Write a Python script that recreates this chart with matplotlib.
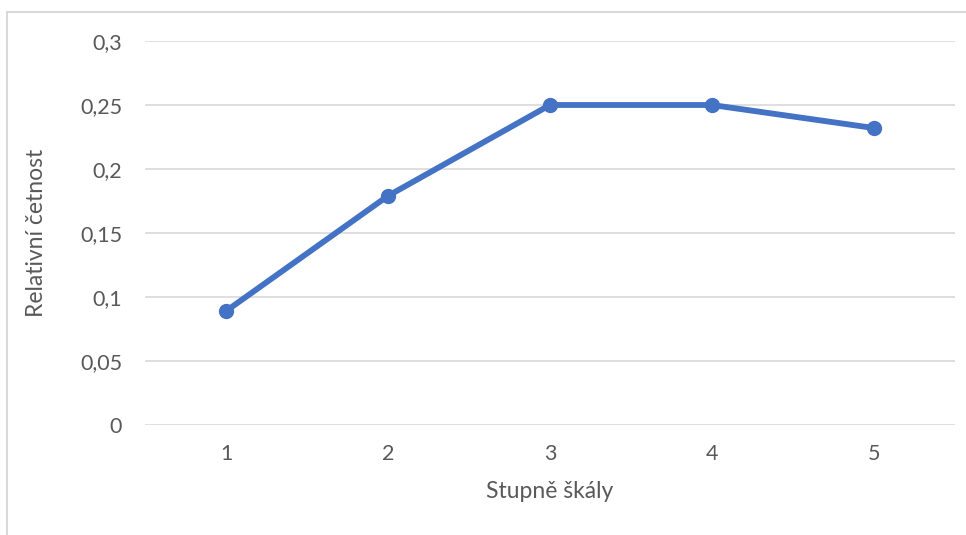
import matplotlib
matplotlib.use("Agg")
import matplotlib.pyplot as plt
from matplotlib.patches import Rectangle
from matplotlib.ticker import FuncFormatter

categories = ["1", "2", "3", "4", "5"]
values = [0.089, 0.179, 0.25, 0.25, 0.232]
yticks = [0, 0.05, 0.1, 0.15, 0.2, 0.25, 0.3]
xlabel = "Stupně škály"
ylabel = "Relativní četnost"

plt.rcParams['font.family'] = ['Lato', 'DejaVu Sans']
W, H = 966, 535
fig = plt.figure(figsize=(W/100, H/100), dpi=100)
ax = fig.add_axes([145/W, 1-425/H, 810/W, 384/H])

x = list(range(1, len(categories)+1))
ax.plot(x, values, color="#4472C4", lw=4.2, marker="o", ms=10,
        solid_capstyle="round", zorder=3)
ax.set_xlim(0.5, len(categories)+0.5)
ax.set_ylim(0, 0.3)
ax.set_yticks(yticks)
ax.yaxis.set_major_formatter(FuncFormatter(lambda v, p: ("%g" % round(v, 4)).replace(".", ",")))
ax.set_xticks(x)
ax.set_xticklabels(categories)
ax.grid(axis="y", color="#d9d9d9", lw=1.2)
ax.set_axisbelow(True)
for s in ax.spines.values():
    s.set_visible(False)
ax.tick_params(length=0, labelsize=15.5, colors="#595959")
ax.tick_params(axis="y", pad=16.5)
ax.tick_params(axis="x", pad=14)
ax.set_xlabel(xlabel, fontsize=16.5, color="#595959", labelpad=12)
ax.set_ylabel(ylabel, fontsize=16.5, color="#595959", labelpad=24)

fig.patches.append(Rectangle((7/W, -0.1), 1.2, 1.1 - 12/H, transform=fig.transFigure,
                             fill=False, edgecolor="#d9d9d9", lw=1.5))
fig.savefig("out.png", dpi=100)
